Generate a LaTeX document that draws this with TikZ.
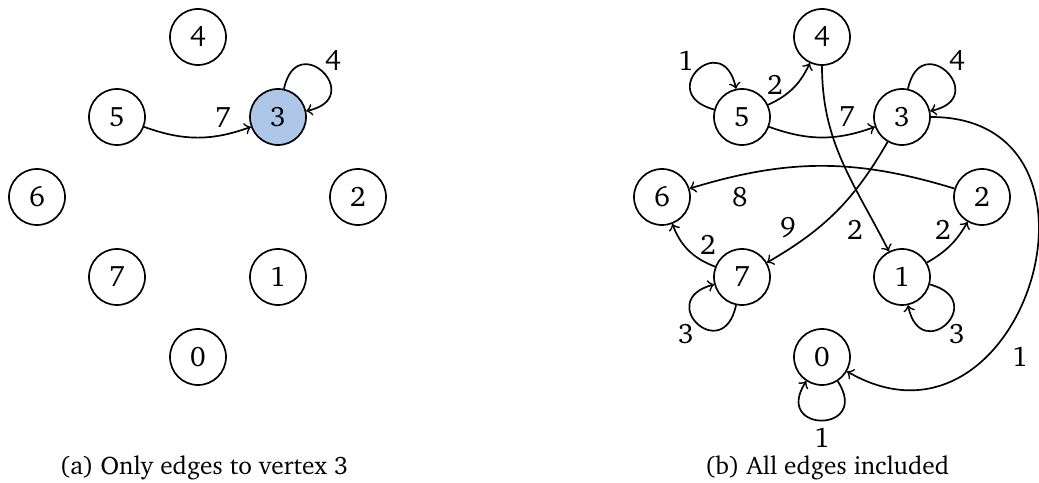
\documentclass[tikz,border=0pt]{standalone}
\usepackage[T1]{fontenc}
\renewcommand{\rmdefault}{bch}
\definecolor{hlblue}{RGB}{174,198,232}
\begin{document}
\begin{tikzpicture}[x=0.0125cm,y=0.0125cm,
  font=\fontsize{10}{12}\selectfont,
  vtx/.style={circle,draw,semithick,minimum size=0.7cm,inner sep=0pt},
  hl/.style={fill=hlblue},
  edg/.style={->,semithick},
  lbl/.style={inner sep=0pt},
  capt/.style={anchor=base,font=\fontsize{9}{11}\selectfont},
  selfloop/.style={distance=0.78cm}]
\useasboundingbox (0,0) rectangle (1039,-483);

% (a)
\node[vtx] (a4) at (198,-37) {4};
\node[vtx] (a5) at (117,-117) {5};
\node[vtx,hl] (a3) at (278,-117) {3};
\node[vtx] (a6) at (37,-197) {6};
\node[vtx] (a2) at (358,-197) {2};
\node[vtx] (a7) at (117,-277) {7};
\node[vtx] (a1) at (278,-277) {1};
\node[vtx] (a0) at (198,-357) {0};

\draw[edg] (a5) to[bend right=20] (a3) node[lbl] at (223,-118) {7};
\draw[edg] (a3) to[out=78,in=12,selfloop] (a3) node[lbl] at (333,-61) {4};

% (b)
\node[vtx] (b4) at (822,-37) {4};
\node[vtx] (b5) at (742,-117) {5};
\node[vtx] (b3) at (902,-117) {3};
\node[vtx] (b6) at (662,-197) {6};
\node[vtx] (b2) at (982,-197) {2};
\node[vtx] (b7) at (742,-277) {7};
\node[vtx] (b1) at (902,-277) {1};
\node[vtx] (b0) at (822,-357) {0};

\draw[edg] (b5) to[out=165,in=102,selfloop] (b5) node[lbl] at (686,-61) {1};
\draw[edg] (b5) to[bend right=20] (b4) node[lbl] at (775,-85) {2};
\draw[edg] (b5) to[bend right=20] (b3) node[lbl] at (847,-117) {7};
\draw[edg] (b3) to[out=78,in=12,selfloop] (b3) node[lbl] at (957,-61) {4};
\draw[edg] (b3) to[bend left=15] (b7) node[lbl] at (788,-228) {9};
\draw[edg] (b4) to[out=-90,in=117] (b1) node[lbl] at (855,-230) {2};
\draw[edg] (b2) to[bend right=17] (b6) node[lbl] at (740,-197) {8};
\draw[edg] (b7) to[bend left=24] (b6) node[lbl] at (708,-245) {2};
\draw[edg] (b7) to[out=-102,in=195,selfloop] (b7) node[lbl] at (686,-334) {3};
\draw[edg] (b1) to[bend right=15] (b2) node[lbl] at (943,-230) {2};
\draw[edg] (b1) to[out=-15,in=-78,selfloop] (b1) node[lbl] at (957,-334) {3};
\draw[edg] (b3) to[out=0,in=-30,out distance=2.5cm,in distance=2.55cm] (b0) node[lbl] at (1020,-357) {1};
\draw[edg] (b0) to[out=-57,in=-123,selfloop] (b0) node[lbl] at (822,-438) {1};

% captions
\node[capt] (capa) at (204,-475) {(a) Only edges to vertex 3};
\node[capt] (capb) at (827,-475) {(b) All edges included};
\end{tikzpicture}
\end{document}
